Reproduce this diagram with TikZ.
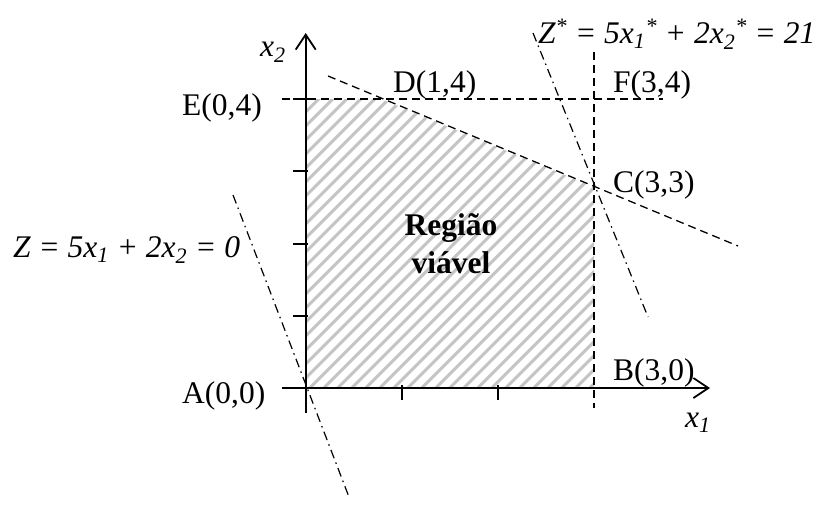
\documentclass[tikz,border=0pt]{standalone}
\usepackage{fontspec}
\setmainfont{Liberation Serif}
\usetikzlibrary{arrows.meta}
\begin{document}
\begin{tikzpicture}[x=1pt,y=-1pt,
  axisline/.style={line width=1.8pt,-{Straight Barb[length=15pt,width=20pt,line width=1.8pt]}},
  tickline/.style={line width=1.8pt},
  dashline/.style={line width=1.3pt,dash pattern=on 8pt off 5pt},
  dashdotline/.style={line width=1.2pt,dash pattern=on 9pt off 4.5pt on 1.5pt off 4.5pt},
  hatchline/.style={line width=3pt,color=black!23},
  lbl/.style={inner sep=0pt,anchor=base west,font=\fontsize{31.5}{37}\selectfont},
  eqlbl/.style={inner sep=0pt,anchor=base west,font=\fontsize{31.5}{37}\selectfont\itshape},
  regionlbl/.style={inner sep=0pt,anchor=base,font=\fontsize{31.5}{37}\selectfont\bfseries}
]
\useasboundingbox (0,0) rectangle (820,504);
% key points
\coordinate (O) at (305.7,388);
\coordinate (E) at (305.7,99);
\coordinate (D) at (381,99);
\coordinate (C) at (594,187);
\coordinate (B) at (594,388);
% hatched feasible region
\begin{scope}
  \clip (O) -- (E) -- (D) -- (C) -- (B) -- cycle;
  \foreach \i in {-322,-308,...,322}
    \draw[hatchline] (305.7+\i,392) -- (305.7+\i+310,82);
\end{scope}
% region label
\node[regionlbl] (reg1) at (451,235) {Região};
\node[regionlbl] (reg2) at (451,273) {viável};
% constraint lines
\coordinate (x3top) at (594,52);
\coordinate (x3bot) at (594,408);
\draw[dashline] (x3top) -- (x3bot);
\coordinate (y4left) at (282,99);
\coordinate (y4right) at (663,99);
\draw[dashline] (y4left) -- (y4right);
\coordinate (dcstart) at (328,76);
\coordinate (dcend) at (738,246);
\draw[dashline] (dcstart) -- (dcend);
% objective lines
\coordinate (z0top) at (233,195);
\coordinate (z0bot) at (349,497);
\draw[dashdotline] (z0top) -- (z0bot);
\coordinate (zstop) at (533,33);
\coordinate (zsbot) at (648,317);
\draw[dashdotline] (zstop) -- (zsbot);
% axes
\coordinate (xaxl) at (282,388);
\coordinate (xaxr) at (710,388);
\coordinate (yaxb) at (305.7,413);
\coordinate (yaxt) at (305.7,33);
\draw[axisline] (xaxl) -- (xaxr);
\draw[axisline] (yaxb) -- (yaxt);
% ticks
\foreach \tx in {402,498}
  \draw[tickline] (\tx,385) -- (\tx,400);
\foreach \ty in {316,244,171,99}
  \draw[tickline] (293,\ty) -- (308,\ty);
% labels
\node[eqlbl] (lx2) at (260,56) {x\textsubscript{2}};
\node[eqlbl] (lx1) at (685,427) {x\textsubscript{1}};
\node[lbl] (lE) at (182,115) {E(0,4)};
\node[lbl] (lD) at (393,92) {D(1,4)};
\node[lbl] (lF) at (613,92) {F(3,4)};
\node[lbl] (lC) at (613,192) {C(3,3)};
\node[lbl] (lB) at (613,380) {B(3,0)};
\node[lbl] (lA) at (182,403) {A(0,0)};
\node[eqlbl] (lz0) at (13,257) {Z = 5x\textsubscript{1} + 2x\textsubscript{2} = 0};
\node[eqlbl] (lzs) at (538,43) {Z\textsuperscript{*} = 5x\textsubscript{1}\textsuperscript{*} + 2x\textsubscript{2}\textsuperscript{*} = 21};
\end{tikzpicture}
\end{document}
